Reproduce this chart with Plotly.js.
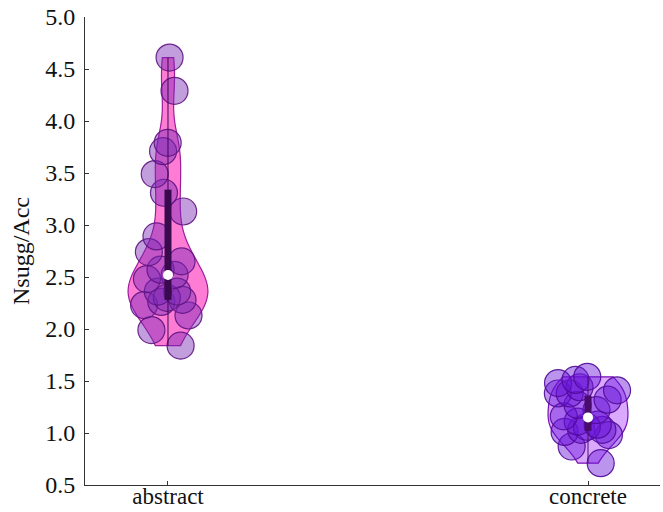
<!DOCTYPE html>
<html>
<head>
<meta charset="utf-8">
<script src="https://cdn.plot.ly/plotly-3.0.1.min.js"></script>
<style>html,body{margin:0;padding:0;background:#fff;}#chart{width:663px;height:512px;}</style>
</head>
<body>
<div id="chart"></div>
<script>
var categories = ['abstract', 'concrete'];
var abstractValues = [4.61, 4.29, 3.79, 3.71, 3.49, 3.31, 3.13, 2.89, 2.74, 2.65, 2.57, 2.52, 2.48, 2.36, 2.36, 2.30, 2.28, 2.26, 2.23, 2.13, 1.99, 1.84];
var concreteValues = [1.54, 1.51, 1.48, 1.44, 1.41, 1.38, 1.38, 1.32, 1.27, 1.22, 1.16, 1.11, 1.08, 1.06, 1.03, 1.03, 1.01, 0.98, 0.87, 0.71];
var q1Values = [2.28, 1.02];
var medianValues = [2.52, 1.15];
var q3Values = [3.34, 1.36];
var yTickVals = [0.5, 1.0, 1.5, 2.0, 2.5, 3.0, 3.5, 4.0, 4.5, 5.0];

var series = [abstractValues, concreteValues];
var violinFill = ['rgba(255,110,208,0.9)', 'rgba(214,160,255,0.9)'];
var violinLine = ['#9a1e9e', '#7a10b8'];
var markerFill = ['rgba(120,40,180,0.45)', 'rgba(105,20,215,0.45)'];
var markerLine = ['rgba(95,20,130,0.9)', 'rgba(80,10,150,0.9)'];
var boxColor = ['#3a0a4e', '#4a0c6c'];
var bw = [0.22, 0.17];
var jit = [0.8, 0.95];

var traces = [];
categories.forEach(function (c, i) {
  traces.push({
    type: 'violin',
    x: series[i].map(function () { return c; }),
    y: series[i],
    spanmode: 'hard',
    bandwidth: bw[i],
    scalemode: 'width',
    width: 0.19,
    fillcolor: violinFill[i],
    line: {color: violinLine[i], width: 1.2},
    points: 'all',
    pointpos: 0,
    jitter: jit[i],
    marker: {size: 27, color: markerFill[i], line: {color: markerLine[i], width: 1.2}},
    box: {visible: false},
    meanline: {visible: false},
    hoverinfo: 'skip',
    showlegend: false
  });
});
categories.forEach(function (c, i) {
  var mn = Math.min.apply(null, series[i]);
  var mx = Math.max.apply(null, series[i]);
  traces.push({
    type: 'scatter', mode: 'lines',
    x: [c, c], y: [mn, mx],
    line: {color: boxColor[i], width: 1},
    hoverinfo: 'skip', showlegend: false
  });
  traces.push({
    type: 'scatter', mode: 'lines',
    x: [c, c], y: [q1Values[i], q3Values[i]],
    line: {color: boxColor[i], width: 7},
    hoverinfo: 'skip', showlegend: false
  });
  traces.push({
    type: 'scatter', mode: 'markers',
    x: [c], y: [medianValues[i]],
    marker: {size: 10, color: '#ffffff', line: {width: 0}},
    hoverinfo: 'skip', showlegend: false
  });
});

var layout = {
  width: 663, height: 512,
  margin: {l: 85, r: 3, t: 17, b: 27},
  paper_bgcolor: '#ffffff', plot_bgcolor: '#ffffff',
  font: {family: 'Liberation Serif, Times New Roman, serif', size: 24, color: '#111'},
  showlegend: false,
  violinmode: 'overlay',
  xaxis: {
    type: 'category',
    categoryorder: 'array', categoryarray: categories,
    range: [-0.1976, 1.1714],
    showline: true, linecolor: '#333', linewidth: 1,
    ticks: 'inside', ticklen: 4, tickcolor: '#333',
    showgrid: false, zeroline: false,
    tickfont: {size: 23},
    ticklabelstandoff: -10
  },
  yaxis: {
    range: [0.5, 5.0],
    tickvals: yTickVals,
    tickformat: '.1f',
    showline: true, linecolor: '#333', linewidth: 1,
    ticks: 'inside', ticklen: 4, tickcolor: '#333',
    showgrid: false, zeroline: false,
    tickfont: {size: 24},
    ticklabelstandoff: 4,
    title: {text: 'Nsugg/Acc', font: {size: 24}, standoff: 8}
  }
};

Plotly.newPlot('chart', traces, layout, {displayModeBar: false, staticPlot: true});
</script>
</body>
</html>
